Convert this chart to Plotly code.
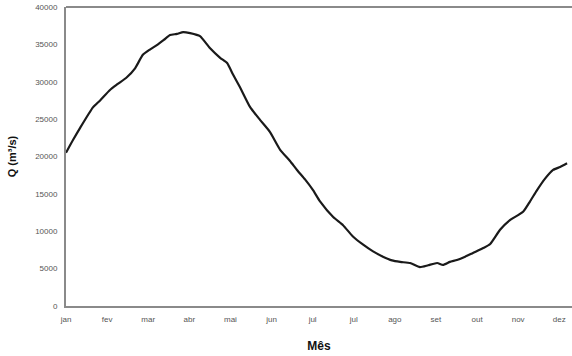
import plotly.graph_objects as go

month_labels = ["jan", "fev", "mar", "abr", "mai", "jun", "jul", "jul",
                "ago", "set", "out", "nov", "dez"]
month_pos = list(range(len(month_labels)))

# position in month units (0 = jan) and discharge Q (m³/s)
t = [0.00, 0.17, 0.34, 0.66, 0.83, 1.07, 1.26, 1.48, 1.68, 1.87, 2.04, 2.21,
     2.38, 2.53, 2.70, 2.85, 3.02, 3.26, 3.50, 3.75, 3.92, 4.06, 4.23, 4.48,
     4.72, 4.96, 5.21, 5.45, 5.62, 5.82, 6.01, 6.18, 6.50, 6.74, 6.98, 7.23,
     7.47, 7.71, 7.93, 8.13, 8.37, 8.61, 8.81, 9.03, 9.17, 9.34, 9.51, 9.71,
     9.90, 10.15, 10.32, 10.56, 10.80, 11.12, 11.29, 11.46, 11.65, 11.85,
     12.02, 12.19]
q = [20500, 22200, 23800, 26600, 27500, 28900, 29700, 30600, 31800, 33600,
     34300, 34900, 35600, 36250, 36400, 36650, 36500, 36100, 34500, 33200,
     32500, 31000, 29300, 26600, 24900, 23300, 20900, 19400, 18200, 16900,
     15500, 14000, 11900, 10800, 9300, 8200, 7300, 6600, 6100, 5900, 5750,
     5200, 5450, 5750, 5500, 5900, 6150, 6600, 7100, 7750, 8300, 10200,
     11500, 12600, 14000, 15500, 17000, 18200, 18600, 19100]

y_ticks = [0, 5000, 10000, 15000, 20000, 25000, 30000, 35000, 40000]

fig = go.Figure()
fig.add_trace(go.Scatter(x=t, y=q, mode="lines",
                         line=dict(color="#1a1a1a", width=2.2,
                                   shape="spline", smoothing=0.5),
                         showlegend=False, hoverinfo="skip"))

axis_font = dict(family="Liberation Sans, Arial, sans-serif", size=8, color="#555555")

fig.update_layout(
    width=572, height=356,
    margin=dict(l=66, r=0, t=7, b=50, autoexpand=False),
    paper_bgcolor="white", plot_bgcolor="white",
    xaxis=dict(range=[0, 12.31], tickmode="array", tickvals=month_pos,
               ticktext=month_labels, showgrid=False, zeroline=False,
               showline=True, linecolor="#8a8a8a", linewidth=2,
               ticks="", tickfont=axis_font, automargin=False,
               ticklabelstandoff=4,
               title=dict(text="<b>Mês</b>", standoff=19,
                          font=dict(family="Liberation Sans, Arial, sans-serif",
                                    size=12, color="#111111"))),
    yaxis=dict(range=[0, 40000], tickmode="array", tickvals=y_ticks,
               ticktext=[str(v) for v in y_ticks], showgrid=False,
               zeroline=False, showline=True, linecolor="#8a8a8a",
               linewidth=2, ticks="", tickfont=axis_font, automargin=False,
               ticklabelstandoff=5,
               title=dict(text="<b>Q (m³/s)</b>", standoff=16,
                          font=dict(family="Liberation Sans, Arial, sans-serif",
                                    size=11, color="#111111"))),
    shapes=[dict(type="line", xref="paper", yref="paper", x0=0, x1=1,
                 y0=1, y1=1, line=dict(color="#8a8a8a", width=2))],
)

fig.write_html("out.html", config={"displayModeBar": False},
               post_script="document.body.style.margin='0';document.body.style.overflow='hidden';")
